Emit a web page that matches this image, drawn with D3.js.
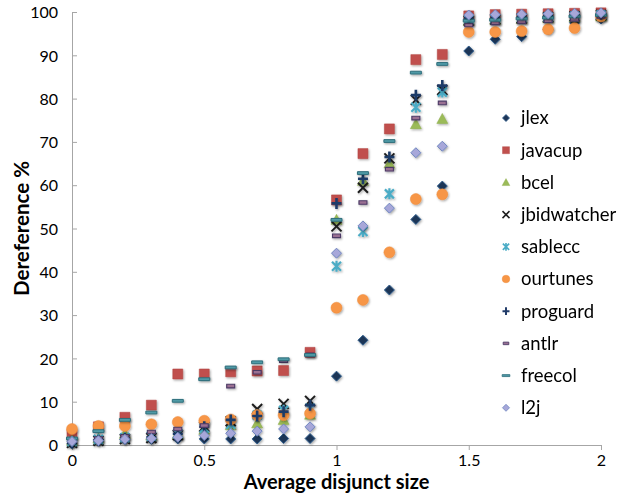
<!DOCTYPE html>
<html>
<head>
<meta charset="utf-8">
<script src="https://cdn.jsdelivr.net/npm/d3@7"></script>
<style>
  html, body { margin: 0; padding: 0; background: #fff; }
  svg { display: block; font-family: Lato, "Liberation Sans", sans-serif; }
</style>
</head>
<body>
<svg id="chart" width="621" height="494"></svg>
<script>
// Average disjunct size (x) for every measured point
const xs = [0, 0.1, 0.2, 0.3, 0.4, 0.5, 0.6, 0.7, 0.8, 0.9, 1.0, 1.1, 1.2, 1.3, 1.4, 1.5, 1.6, 1.7, 1.8, 1.9, 2.0];

const benchmarks = ["jlex", "javacup", "bcel", "jbidwatcher", "sablecc", "ourtunes", "proguard", "antlr", "freecol", "l2j"];

// Dereference % per benchmark
const jlex        = [0.3, 1.2, 1.3, 1.3, 1.4, 1.4, 1.4, 1.4, 1.5, 1.5, 15.9, 24.2, 35.8, 52.1, 59.8, 91, 93.7, 94.3, 96, 97.5, 98.4];
const javacup     = [2.5, 4.2, 6.4, 9.2, 16.4, 16.4, 16.9, 17.1, 17.2, 21.4, 56.6, 67.3, 73, 89, 90.2, 99.1, 99.4, 99.5, 99.6, 99.7, 99.8];
const bcel        = [1, 1.5, 2.6, 2.2, 2.6, 3.5, 4.6, 5, 5.8, 7, 52, 61, 65, 74.1, 75.3, 98, 98.2, 98.4, 98.6, 98.8, 99];
const jbidwatcher = [0.5, 1, 1.4, 1.6, 2.3, 4.2, 5.5, 8.3, 9.5, 10.2, 50.5, 59.4, 66.2, 79.7, 82, 98, 98.3, 98.5, 98.8, 99, 99.3];
const sablecc     = [0.8, 1.3, 1.7, 2, 2.6, 3.9, 4.8, 6.9, 8, 8.5, 41.3, 49.3, 58, 78, 81.5, 98.2, 98.4, 98.6, 98.8, 99, 99.3];
const ourtunes    = [3.7, 4.4, 4.4, 4.8, 5.3, 5.6, 5.9, 6.9, 6.9, 7.3, 31.7, 33.5, 44.5, 56.8, 57.9, 95.4, 95.4, 95.6, 96, 96.3, 99];
const proguard    = [0.5, 1, 1.5, 1.8, 2.6, 4.2, 5.8, 6.7, 7.7, 9.2, 55.8, 61.5, 66.5, 80.8, 83, 98.5, 98.6, 98.8, 99, 99.2, 99.5];
const antlr       = [1, 1.5, 2, 3, 3.7, 4.5, 13.6, 16.8, 19.5, 20.8, 48.3, 56, 63.7, 75.5, 79, 97, 97.5, 97.8, 98, 98.3, 99];
const freecol     = [1.5, 3.2, 5.8, 7.5, 10.2, 15.2, 17.9, 19.1, 19.8, 20.8, 52, 62.8, 70.2, 86, 88, 98, 98.2, 98.5, 98.7, 99, 99.3];
const l2j         = [0.8, 1, 1.3, 1.5, 1.8, 2.2, 2.7, 3.2, 3.7, 4.2, 44.3, 50.6, 54.7, 67.5, 69, 99.3, 99.4, 99.5, 99.6, 99.7, 99.8];

const xTicks = [0, 0.5, 1, 1.5, 2];
const yTicks = [0, 10, 20, 30, 40, 50, 60, 70, 80, 90, 100];

const valuesByName = { jlex, javacup, bcel, jbidwatcher, sablecc, ourtunes, proguard, antlr, freecol, l2j };

// Marker shapes (centered at 0,0) scaled by k
const shapes = {
  diamond:  k => `M0,${-5*k}L${5*k},0L0,${5*k}L${-5*k},0Z`,
  square:   k => `M${-5*k},${-5*k}h${10*k}v${10*k}h${-10*k}Z`,
  triangle: k => `M0,${-5.5*k}L${5.5*k},${4.5*k}L${-5.5*k},${4.5*k}Z`,
  xmark:    k => `M${-5*k},${-5*k}L${5*k},${5*k}M${5*k},${-5*k}L${-5*k},${5*k}`,
  star:     k => `M${-4.5*k},${-4.5*k}L${4.5*k},${4.5*k}M${4.5*k},${-4.5*k}L${-4.5*k},${4.5*k}M0,${-5.5*k}L0,${5.5*k}`,
  plus:     k => `M${-5*k},0L${5*k},0M0,${-5.5*k}L0,${5.5*k}`,
  smalldash:k => `M${-4*k},${-1.8*k}h${8*k}v${3.6*k}h${-8*k}Z`,
  dash:     k => `M${-5.5*k},${-1.4*k}h${11*k}v${2.8*k}h${-11*k}Z`
};

const styles = {
  jlex:        { shape: "diamond",  fill: "#1d3557", stroke: "#2f5d8c", sw: 1 },
  javacup:     { shape: "square",   fill: "#c0504d", stroke: "#b0413e", sw: 0.5 },
  bcel:        { shape: "triangle", fill: "#9bbb59", stroke: "#8aab48", sw: 0.5 },
  jbidwatcher: { shape: "xmark",    fill: "none",    stroke: "#1e1e1e", sw: 2 },
  sablecc:     { shape: "star",     fill: "none",    stroke: "#4bacc6", sw: 2.2 },
  ourtunes:    { shape: "circle",   fill: "#f79646", stroke: "#ee8a3a", sw: 0.5 },
  proguard:    { shape: "plus",     fill: "none",    stroke: "#1f3a68", sw: 2.6 },
  antlr:       { shape: "smalldash",fill: "#9a6f92", stroke: "#4b3a66", sw: 1.1 },
  freecol:     { shape: "dash",     fill: "#4f9aa6", stroke: "#2f6f7c", sw: 1 },
  l2j:         { shape: "diamond",  fill: "#a7a7d9", stroke: "#6f86bf", sw: 1 }
};

const svg = d3.select("#chart");

const defs = svg.append("defs");
const shadow = defs.append("filter").attr("id", "shadow")
  .attr("x", "-50%").attr("y", "-50%").attr("width", "200%").attr("height", "200%");
shadow.append("feDropShadow").attr("dx", 1).attr("dy", 1.2)
  .attr("stdDeviation", 0.9).attr("flood-color", "#000").attr("flood-opacity", 0.35);

const x = d3.scaleLinear().domain([0, 2]).range([72, 601]);
const y = d3.scaleLinear().domain([0, 100]).range([445, 12]);

// Axes
const yAxis = svg.append("g").attr("transform", `translate(${x(0)},0)`)
  .call(d3.axisLeft(y).tickValues(yTicks).tickSize(-5).tickPadding(14).tickFormat(d3.format("d")));
const xAxis = svg.append("g").attr("transform", `translate(0,${y(0)})`)
  .call(d3.axisBottom(x).tickValues(xTicks).tickSize(5).tickPadding(6).tickFormat(d => d3.format("")(d)));

[yAxis, xAxis].forEach(g => {
  g.select(".domain").attr("stroke", "#a6a6a6").attr("stroke-width", 1);
  g.selectAll(".tick line").attr("stroke", "#a6a6a6");
  g.selectAll(".tick text").attr("fill", "#000").style("font-size", "16px")
    .style("font-family", "Lato, 'Liberation Sans', sans-serif");
});
yAxis.selectAll(".tick text").attr("dy", "0.36em");
xAxis.selectAll(".tick text").attr("dy", "0.6em");

function markerPath(name, k) {
  const st = styles[name];
  if (st.shape === "circle") return null;
  return shapes[st.shape](k);
}

// Data markers, drawn series by series
benchmarks.forEach(name => {
  const st = styles[name];
  const g = svg.append("g").attr("class", "series " + name).attr("filter", "url(#shadow)");
  const pts = xs.map((xv, i) => ({ x: xv, v: valuesByName[name][i] }));
  if (st.shape === "circle") {
    g.selectAll("circle").data(pts).join("circle")
      .attr("cx", d => x(d.x)).attr("cy", d => y(d.v)).attr("r", 5.5)
      .attr("fill", st.fill).attr("stroke", st.stroke).attr("stroke-width", st.sw);
  } else {
    g.selectAll("path").data(pts).join("path")
      .attr("transform", d => `translate(${x(d.x)},${y(d.v)})`)
      .attr("d", markerPath(name, 1))
      .attr("fill", st.fill).attr("stroke", st.stroke).attr("stroke-width", st.sw)
      .attr("stroke-linecap", "butt");
  }
});

// Legend
const legend = svg.append("g").attr("transform", "translate(506,118)");
benchmarks.forEach((name, i) => {
  const st = styles[name];
  const row = legend.append("g").attr("transform", `translate(0,${i * 32.2})`);
  if (st.shape === "circle") {
    row.append("circle").attr("r", 3.8).attr("fill", st.fill).attr("stroke", st.stroke).attr("stroke-width", 0.5);
  } else {
    row.append("path").attr("d", markerPath(name, 0.7))
      .attr("fill", st.fill).attr("stroke", st.stroke)
      .attr("stroke-width", st.fill === "none" ? Math.max(1.4, st.sw * 0.75) : st.sw * 0.8);
  }
  row.append("text").attr("x", 15).attr("y", 0).attr("dy", "0.35em")
    .style("font-size", "18.5px").attr("fill", "#000").text(name);
});

// Axis titles
svg.append("text").attr("x", x(1)).attr("y", 489).attr("text-anchor", "middle")
  .style("font-size", "20px").style("font-weight", "bold").text("Average disjunct size");
svg.append("text").attr("transform", `translate(22,${y(50)}) rotate(-90)`)
  .attr("text-anchor", "middle").attr("dy", "0.35em")
  .style("font-size", "20.5px").style("font-weight", "bold").text("Dereference %");
</script>
</body>
</html>
